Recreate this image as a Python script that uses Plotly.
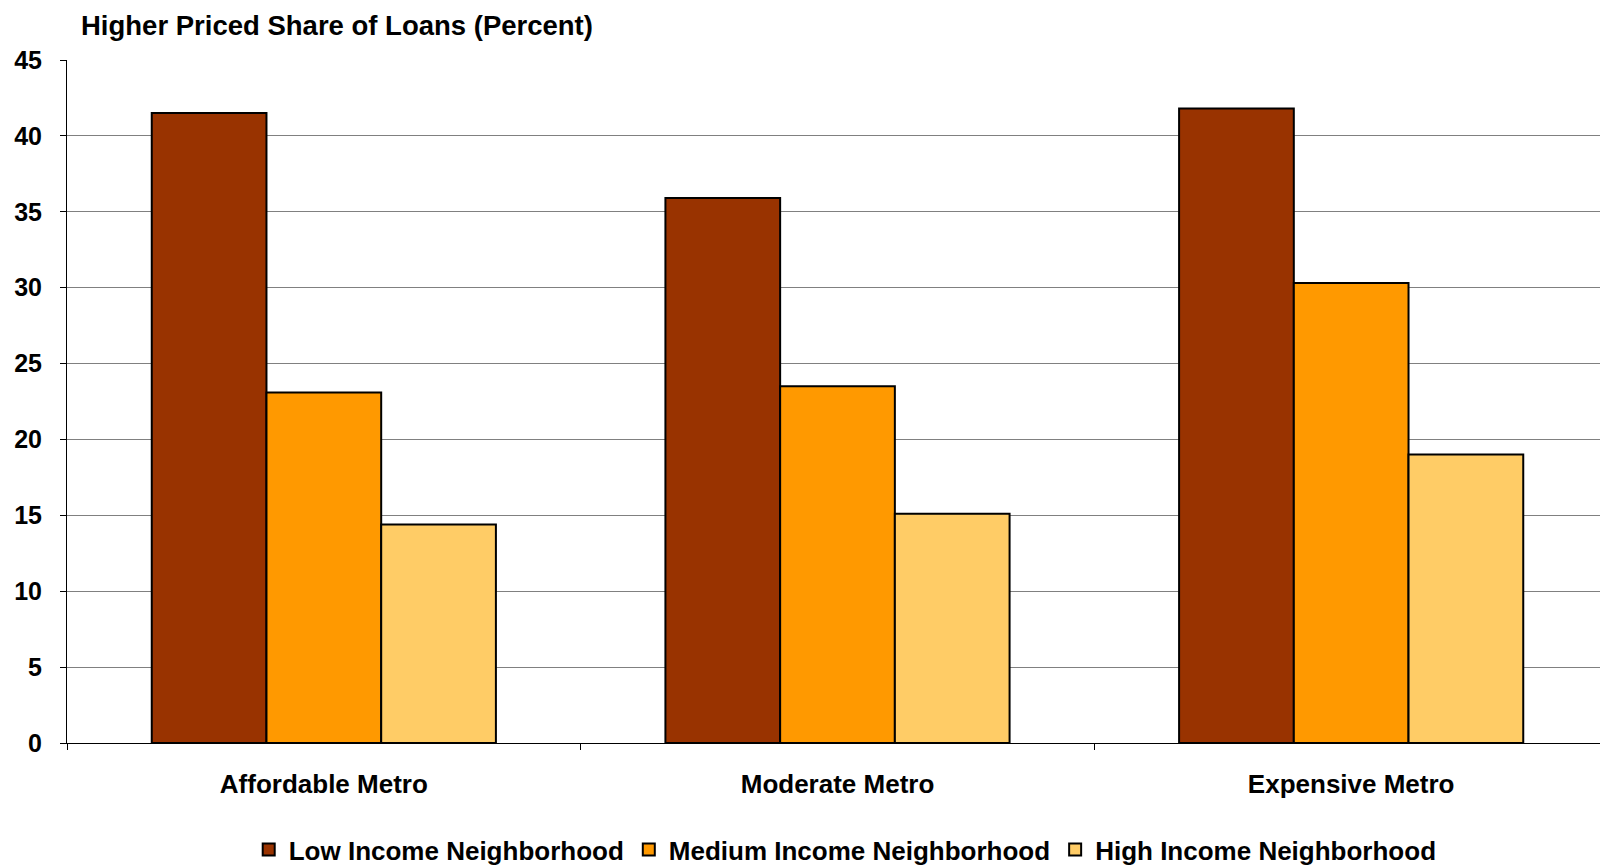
import plotly.graph_objects as go

categories = ["Affordable Metro", "Moderate Metro", "Expensive Metro"]
low_income = [41.5, 35.9, 41.8]
medium_income = [23.1, 23.5, 30.3]
high_income = [14.4, 15.1, 19.0]
series_names = ["Low Income Neighborhood", "Medium Income Neighborhood", "High Income Neighborhood"]
series_colors = ["#993300", "#FF9900", "#FFCC66"]
y_ticks = [0, 5, 10, 15, 20, 25, 30, 35, 40, 45]

FONT = "Liberation Sans, Arial, sans-serif"

fig = go.Figure()
for name, vals, col in zip(series_names, [low_income, medium_income, high_income], series_colors):
    fig.add_trace(go.Bar(
        x=categories, y=vals, name=name,
        marker=dict(color=col, line=dict(color="#000000", width=2)),
    ))

fig.update_layout(
    width=1600, height=859,
    barmode="group", bargap=0.33, bargroupgap=0,
    paper_bgcolor="white", plot_bgcolor="white",
    margin=dict(l=59, r=0, t=52, b=123.5, autoexpand=False),
    font=dict(family=FONT, size=20, color="#000000"),
    showlegend=True,
    legend=dict(
        orientation="h", x=0.505, xanchor="center", xref="paper",
        y=-0.156, yanchor="middle",
        font=dict(family=FONT, size=26, color="#000000", weight="bold"),
        itemwidth=30, tracegroupgap=0,
    ),
    annotations=[dict(
        text="<b>Higher Priced Share of Loans (Percent)</b>",
        xref="paper", yref="paper", x=0.0084, y=1.0, xanchor="left", yanchor="middle",
        yshift=35, showarrow=False, borderpad=0,
        font=dict(family=FONT, size=27.5, color="#000000"),
    )],
)

fig.update_xaxes(
    type="category", tickson="boundaries", ticks="outside", ticklen=6, tickcolor="#000000",
    showline=True, linecolor="#000000", linewidth=1,
    tickfont=dict(family=FONT, size=26, color="#000000", weight="bold"),
    ticklabelstandoff=18, showgrid=False,
)
fig.update_yaxes(
    range=[0, 45], tickvals=y_ticks, ticks="outside", ticklen=6, tickcolor="#000000",
    showline=True, linecolor="#000000", linewidth=1,
    showgrid=True, gridcolor="#808080", gridwidth=1,
    tickfont=dict(family=FONT, size=25, color="#000000", weight="bold"),
    ticklabelstandoff=13, zeroline=False,
)

fig.write_html("out.html")
